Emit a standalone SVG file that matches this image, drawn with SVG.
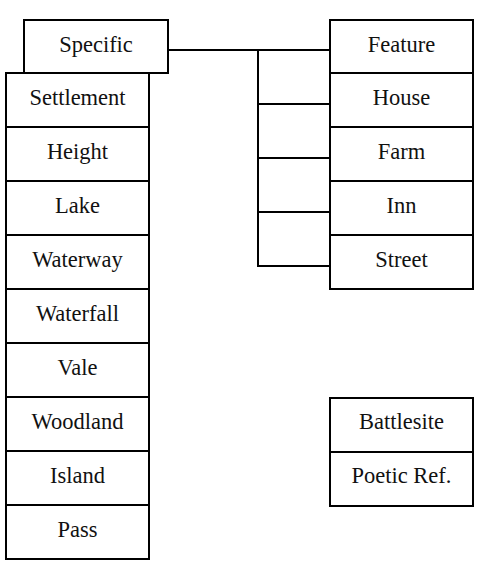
<svg xmlns="http://www.w3.org/2000/svg" width="482" height="562" viewBox="0 0 482 562">
<style>
rect{fill:#fff;stroke:#000;stroke-width:2}
text{font-family:"Liberation Serif","Times New Roman",serif;font-size:22.5px;text-anchor:middle;fill:#111}
.c line{stroke:#000;stroke-width:2}
</style>
<rect x="0" y="0" width="482" height="562" style="stroke:none"/>
<g class="c" id="connectors">
<line x1="168" y1="50" x2="330" y2="50"/>
<line x1="258" y1="49" x2="258" y2="267"/>
<line x1="257" y1="104" x2="330" y2="104"/>
<line x1="257" y1="158" x2="330" y2="158"/>
<line x1="257" y1="212" x2="330" y2="212"/>
<line x1="257" y1="266" x2="330" y2="266"/>
</g>
<g id="specific"><rect x="24" y="20" width="144" height="53"/><text x="96" y="52">Specific</text></g>
<g id="settlement"><rect x="6" y="73" width="143" height="54"/><text x="77.5" y="105">Settlement</text></g>
<g id="height"><rect x="6" y="127" width="143" height="54"/><text x="77.5" y="159">Height</text></g>
<g id="lake"><rect x="6" y="181" width="143" height="54"/><text x="77.5" y="213">Lake</text></g>
<g id="waterway"><rect x="6" y="235" width="143" height="54"/><text x="77.5" y="267">Waterway</text></g>
<g id="waterfall"><rect x="6" y="289" width="143" height="54"/><text x="77.5" y="321">Waterfall</text></g>
<g id="vale"><rect x="6" y="343" width="143" height="54"/><text x="77.5" y="375">Vale</text></g>
<g id="woodland"><rect x="6" y="397" width="143" height="54"/><text x="77.5" y="429">Woodland</text></g>
<g id="island"><rect x="6" y="451" width="143" height="54"/><text x="77.5" y="483">Island</text></g>
<g id="pass"><rect x="6" y="505" width="143" height="54"/><text x="77.5" y="537">Pass</text></g>
<g id="feature"><rect x="330" y="20" width="143" height="53"/><text x="401.5" y="52">Feature</text></g>
<g id="house"><rect x="330" y="73" width="143" height="54"/><text x="401.5" y="105">House</text></g>
<g id="farm"><rect x="330" y="127" width="143" height="54"/><text x="401.5" y="159">Farm</text></g>
<g id="inn"><rect x="330" y="181" width="143" height="54"/><text x="401.5" y="213">Inn</text></g>
<g id="street"><rect x="330" y="235" width="143" height="54"/><text x="401.5" y="267">Street</text></g>
<g id="battlesite"><rect x="330" y="398" width="143" height="54"/><text x="401.5" y="429">Battlesite</text></g>
<g id="poetic"><rect x="330" y="452" width="143" height="54"/><text x="401.5" y="483">Poetic Ref.</text></g>
</svg>
